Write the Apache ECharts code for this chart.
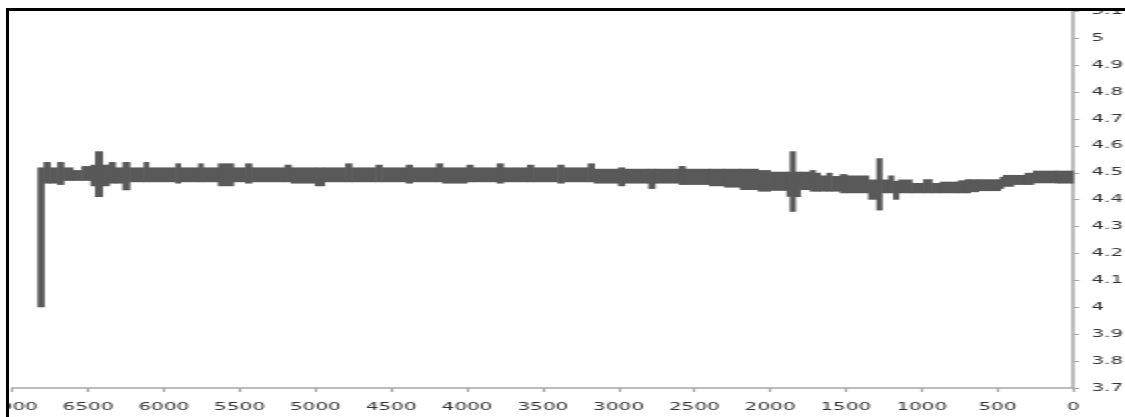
<!DOCTYPE html>
<html>
<head>
<meta charset="utf-8">
<script src="https://cdn.jsdelivr.net/npm/echarts@6/dist/echarts.min.js"></script>
<style>
  html, body { margin: 0; padding: 0; background: #fff; }
  body { width: 1125px; height: 417px; position: relative; overflow: hidden; }
  #frame {
    position: absolute; left: 6px; top: 8px;
    width: 1116px; height: 406px;
    border-left: 3px solid #000; border-top: 3px solid #000;
    overflow: hidden;
  }
  /* the plot is laid out at half width and stretched horizontally */
  #chart {
    position: absolute; left: 0; top: 0;
    width: 558px; height: 406px;
    transform-origin: 0 0; transform: scaleX(2);
  }
</style>
</head>
<body>
<div id="frame"><div id="chart"></div></div>
<script>
// x ticks
const xMin = 0, xMax = 7000, xStep = 500;
// y ticks
const yMin = 3.7, yMax = 5.1, yStep = 0.1;

// signal band, one entry per step: start, end, upper edge, lower edge
const segFrom = [
  6830, 6790, 6750, 6700, 6660, 6600, 6540, 6480, 6450, 6405,
  6360, 6320, 6270, 6225, 6130, 6100, 5920, 5890, 5770, 5740,
  5640, 5540, 5460, 5420, 5200, 5160, 5000, 4940, 4800, 4760,
  4600, 4560, 4400, 4360, 4200, 4160, 4000, 3960, 3800, 3760,
  3600, 3560, 3400, 3360, 3200, 3160, 3000, 2960, 2800, 2760,
  2600, 2560, 2400, 2300, 2196, 2078, 1999, 1888, 1867, 1834,
  1801, 1735, 1702, 1669, 1625, 1592, 1537, 1493, 1350, 1295,
  1262, 1218, 1185, 1152, 1064, 987, 932, 877, 757, 712,
  679, 625, 481, 460, 394, 317, 262, 108
];
const segTo = [
  6790, 6750, 6700, 6660, 6600, 6540, 6480, 6450, 6405, 6360,
  6320, 6270, 6225, 6130, 6100, 5920, 5890, 5770, 5740, 5640,
  5540, 5460, 5420, 5200, 5160, 5000, 4940, 4800, 4760, 4600,
  4560, 4400, 4360, 4200, 4160, 4000, 3960, 3800, 3760, 3600,
  3560, 3400, 3360, 3200, 3160, 3000, 2960, 2800, 2760, 2600,
  2560, 2400, 2300, 2196, 2078, 1999, 1888, 1867, 1834, 1801,
  1735, 1702, 1669, 1625, 1592, 1537, 1493, 1350, 1295, 1262,
  1218, 1185, 1152, 1064, 987, 932, 877, 757, 712, 679,
  625, 481, 460, 394, 317, 262, 108, 0
];
const upper = [
  4.52, 4.54, 4.52, 4.54, 4.52, 4.51, 4.525, 4.53, 4.58, 4.53,
  4.54, 4.52, 4.54, 4.52, 4.54, 4.52, 4.535, 4.52, 4.535, 4.52,
  4.535, 4.52, 4.535, 4.52, 4.53, 4.52, 4.52, 4.52, 4.535, 4.52,
  4.53, 4.52, 4.53, 4.52, 4.535, 4.52, 4.53, 4.52, 4.535, 4.52,
  4.53, 4.52, 4.53, 4.52, 4.535, 4.515, 4.52, 4.515, 4.515, 4.515,
  4.525, 4.515, 4.515, 4.515, 4.515, 4.51, 4.504, 4.504, 4.58, 4.504,
  4.504, 4.51, 4.50, 4.49, 4.50, 4.488, 4.495, 4.49, 4.475, 4.554,
  4.475, 4.49, 4.47, 4.475, 4.462, 4.476, 4.462, 4.467, 4.472, 4.476,
  4.476, 4.476, 4.485, 4.492, 4.492, 4.50, 4.508, 4.508
];
const lower = [
  4.00, 4.46, 4.46, 4.455, 4.47, 4.47, 4.47, 4.45, 4.41, 4.45,
  4.46, 4.46, 4.435, 4.465, 4.465, 4.465, 4.46, 4.465, 4.465, 4.465,
  4.45, 4.465, 4.46, 4.465, 4.465, 4.46, 4.45, 4.465, 4.465, 4.465,
  4.465, 4.465, 4.46, 4.465, 4.465, 4.46, 4.465, 4.465, 4.46, 4.465,
  4.465, 4.465, 4.46, 4.465, 4.465, 4.46, 4.45, 4.46, 4.44, 4.46,
  4.455, 4.455, 4.45, 4.445, 4.436, 4.43, 4.433, 4.411, 4.355, 4.41,
  4.436, 4.43, 4.43, 4.43, 4.43, 4.43, 4.424, 4.424, 4.40, 4.36,
  4.424, 4.424, 4.40, 4.424, 4.424, 4.424, 4.424, 4.424, 4.424, 4.424,
  4.428, 4.432, 4.44, 4.448, 4.455, 4.455, 4.461, 4.46
];

const bandData = segFrom.map((f, i) => [f, segTo[i], upper[i], lower[i]]);

const labelStyle = { fontFamily: 'DejaVu Sans', fontSize: 10, color: '#333333' };
const axisGray = '#a6a6a6';

const chart = echarts.init(document.getElementById('chart'), null, { renderer: 'canvas' });
chart.setOption({
  animation: false,
  backgroundColor: '#fff',
  grid: {
    left: 1.65, right: 25.85, top: 0.4, bottom: 29,
    containLabel: false, outerBoundsMode: 'none'
  },
  xAxis: {
    type: 'value', min: xMin, max: xMax, interval: xStep, inverse: true,
    axisLine: { show: true, lineStyle: { color: axisGray, width: 1.5 } },
    axisTick: { show: true, length: 4, lineStyle: { color: axisGray, width: 1.2 } },
    axisLabel: Object.assign({
      margin: 14, showMinLabel: true, showMaxLabel: true,
      formatter: v => String(v)
    }, labelStyle),
    splitLine: { show: false }
  },
  yAxis: {
    type: 'value', position: 'right', min: yMin, max: yMax, interval: yStep,
    axisLine: { show: true, lineStyle: { color: axisGray, width: 1.5 } },
    axisTick: { show: true, length: 3, lineStyle: { color: axisGray, width: 1 } },
    axisLabel: Object.assign({
      margin: 9,
      formatter: v => String(Math.round(v * 10) / 10)
    }, labelStyle),
    splitLine: { show: false }
  },
  series: [{
    type: 'custom',
    data: bandData,
    encode: { x: [0, 1], y: [2, 3] },
    renderItem: function (params, api) {
      const a = api.coord([api.value(0), api.value(2)]);
      const b = api.coord([api.value(1), api.value(3)]);
      const x = Math.min(a[0], b[0]) - 0.3;
      const y = Math.min(a[1], b[1]);
      return {
        type: 'rect',
        shape: { x: x, y: y, width: Math.abs(a[0] - b[0]) + 0.6, height: Math.abs(a[1] - b[1]) },
        style: { fill: '#595959' }
      };
    }
  }]
});
</script>
</body>
</html>
